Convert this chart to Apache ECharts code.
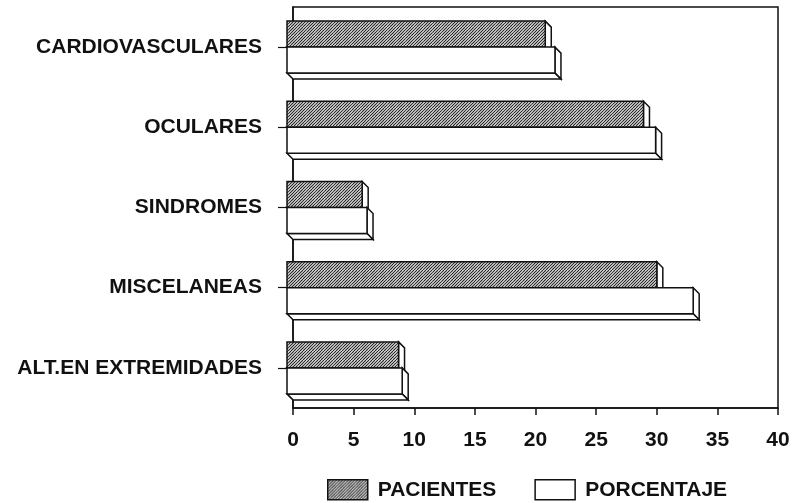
<!DOCTYPE html>
<html>
<head>
<meta charset="utf-8">
<script src="https://cdn.jsdelivr.net/npm/echarts@6/dist/echarts.min.js"></script>
<style>
  html, body { margin: 0; padding: 0; background: #fff; }
  #chart { width: 798px; height: 503px; }
</style>
</head>
<body>
<div id="chart"></div>
<script>
// data
const categories = ['CARDIOVASCULARES', 'OCULARES', 'SINDROMES', 'MISCELANEAS', 'ALT.EN EXTREMIDADES']
const pacientes = [21.3, 29.4, 6.2, 30.5, 9.2]
const porcentaje = [22.1, 30.4, 6.6, 33.5, 9.5]
const xTicks = { min: 0, max: 40, interval: 5 }

const FONT = '"Liberation Sans", Arial, sans-serif'
const INK = '#111'
const DEPTH = 6
const BAR_H = 26

// diagonal hatch used for PACIENTES
const makeHatch = () => {
  const size = 9
  const cv = document.createElement('canvas')
  cv.width = size
  cv.height = size
  const ctx = cv.getContext('2d')
  ctx.fillStyle = '#fff'
  ctx.fillRect(0, 0, size, size)
  ctx.strokeStyle = '#222'
  ctx.lineWidth = 1.2
  for (let c = -size; c <= size * 2; c += 3) {
    ctx.beginPath()
    ctx.moveTo(c, size)
    ctx.lineTo(c + size, 0)
    ctx.stroke()
  }
  return { image: cv, repeat: 'repeat' }
}
const hatch = makeHatch()

// 3D bar: front face shifted left of the axis, depth going right/down
const bar3d = (upper, fill) => (params, api) => {
  const cat = api.value(0)
  const val = api.value(1)
  const start = api.coord([0, cat])
  const end = api.coord([val, cat])
  const cy = start[1]
  const x0 = start[0] - DEPTH
  const x1 = end[0] - DEPTH
  const y0 = upper ? cy - BAR_H : cy
  const y1 = upper ? cy : cy + BAR_H
  const line = { stroke: INK, lineWidth: 1.5 }
  return {
    type: 'group',
    children: [
      {
        type: 'polygon',
        shape: { points: [[x1, y0], [x1 + DEPTH, y0 + DEPTH], [x1 + DEPTH, y1 + DEPTH], [x1, y1]] },
        style: Object.assign({ fill: '#fff' }, line)
      },
      {
        type: 'polygon',
        shape: { points: [[x0, y1], [x1, y1], [x1 + DEPTH, y1 + DEPTH], [x0 + DEPTH, y1 + DEPTH]] },
        style: Object.assign({ fill: '#fff' }, line)
      },
      {
        type: 'rect',
        shape: { x: x0, y: y0, width: x1 - x0, height: y1 - y0 },
        style: Object.assign({ fill: fill }, line)
      }
    ]
  }
}

const chart = echarts.init(document.getElementById('chart'), null, { renderer: 'canvas' })

chart.setOption({
  animation: false,
  backgroundColor: '#fff',
  grid: {
    left: 293,
    right: 20,
    top: 7,
    bottom: 95,
    show: true,
    borderColor: INK,
    borderWidth: 1.5
  },
  legend: {
    left: 327,
    top: 479,
    padding: 0,
    itemWidth: 40,
    itemHeight: 20,
    itemGap: 38,
    icon: 'rect',
    textStyle: { fontFamily: FONT, fontSize: 21, fontWeight: 'bold', color: INK, padding: [2, 0, 0, 5] },
    data: [
      { name: 'PACIENTES', itemStyle: { color: hatch, borderColor: INK, borderWidth: 1.5 } },
      { name: 'PORCENTAJE', itemStyle: { color: '#fff', borderColor: INK, borderWidth: 1.5 } }
    ]
  },
  xAxis: {
    type: 'value',
    min: xTicks.min,
    max: xTicks.max,
    interval: xTicks.interval,
    splitLine: { show: false },
    axisLine: { show: true, lineStyle: { color: INK, width: 1.5 } },
    axisTick: { show: true, length: 7, lineStyle: { color: INK, width: 1.5 } },
    axisLabel: { margin: 22, fontFamily: FONT, fontSize: 21, fontWeight: 'bold', color: INK }
  },
  yAxis: {
    type: 'category',
    inverse: true,
    data: categories,
    axisLine: { show: true, lineStyle: { color: INK, width: 1.5 } },
    axisTick: { show: true, alignWithLabel: true, length: 15, lineStyle: { color: INK, width: 1.2 } },
    axisLabel: { margin: 31, fontFamily: FONT, fontSize: 21, fontWeight: 'bold', color: INK }
  },
  series: [
    {
      name: 'PACIENTES',
      type: 'custom',
      itemStyle: { color: hatch },
      renderItem: bar3d(true, hatch),
      encode: { x: 1, y: 0 },
      data: pacientes.map((v, i) => [i, v])
    },
    {
      name: 'PORCENTAJE',
      type: 'custom',
      itemStyle: { color: '#fff' },
      renderItem: bar3d(false, '#fff'),
      encode: { x: 1, y: 0 },
      data: porcentaje.map((v, i) => [i, v])
    }
  ]
})
</script>
</body>
</html>
